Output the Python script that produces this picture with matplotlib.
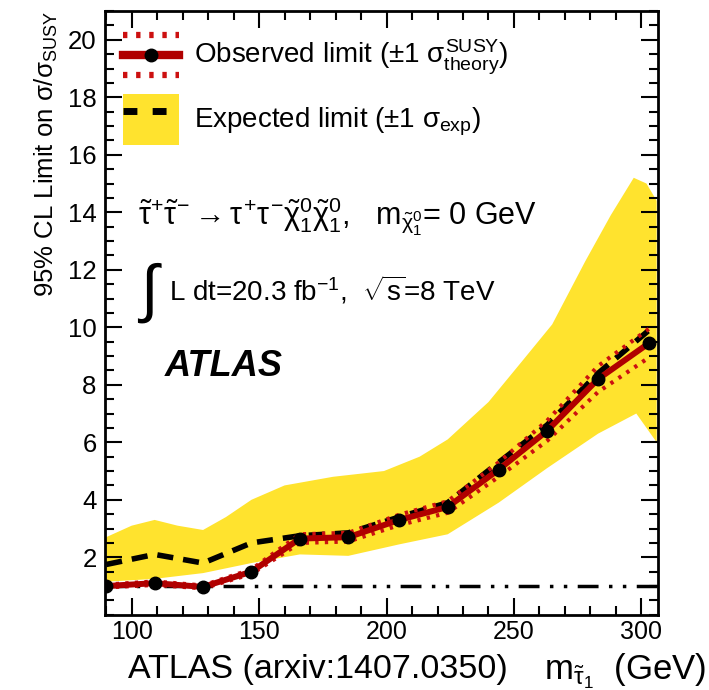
import numpy as np
import matplotlib
matplotlib.use('Agg')
import matplotlib.pyplot as plt
from matplotlib.lines import Line2D
from matplotlib.patches import Patch
from matplotlib.legend_handler import HandlerBase
from matplotlib.ticker import MultipleLocator

plt.rcParams['font.family'] = ['Liberation Sans', 'DejaVu Sans']
plt.rcParams['mathtext.fontset'] = 'custom'
plt.rcParams['mathtext.rm'] = 'Liberation Sans'
plt.rcParams['mathtext.it'] = 'Liberation Sans'
plt.rcParams['mathtext.bf'] = 'Liberation Sans:bold'
plt.rcParams['mathtext.sf'] = 'Liberation Sans'

# ---------------- data ----------------
mass = [90, 109, 128, 147, 166, 185, 205, 224, 244, 263, 283, 303]
observed = [1.0, 1.1, 0.97, 1.5, 2.65, 2.7, 3.3, 3.75, 5.05, 6.4, 8.2, 9.45]
theory_up = [1.05, 1.16, 1.02, 1.58, 2.8, 2.85, 3.48, 3.95, 5.3, 6.75, 8.65, 9.95]
theory_down = [0.95, 1.04, 0.92, 1.42, 2.5, 2.55, 3.12, 3.55, 4.8, 6.05, 7.75, 8.95]
expected = [1.75, 2.1, 1.8, 2.5, 2.75, 2.85, 3.4, 3.9, 5.3, 6.6, 8.4, 9.9]

band_up_x = [90, 100, 109, 118, 128, 137, 147, 160, 179, 199, 213, 224, 240, 253,
             265, 278, 288, 297, 302, 306]
band_up_y = [2.7, 3.1, 3.3, 3.1, 2.95, 3.4, 4.0, 4.5, 4.8, 5.0, 5.5, 6.1, 7.4, 8.8,
             10.1, 12.3, 13.9, 15.2, 15.0, 14.4]
band_dn_x = [90, 109, 128, 147, 166, 185, 205, 224, 244, 263, 283, 298, 306]
band_dn_y = [1.15, 1.25, 1.45, 1.8, 2.1, 2.05, 2.45, 2.8, 3.9, 5.1, 6.3, 7.0, 6.0]

xticks = [100, 150, 200, 250, 300]
yticks = [2, 4, 6, 8, 10, 12, 14, 16, 18, 20]

RED = '#b00000'
DOTRED = '#cc1010'
YELLOW = '#ffe32e'

fig = plt.figure(figsize=(7.09, 6.90), dpi=100)
ax = fig.add_axes([0.148, 0.109, 0.780, 0.875])

# yellow band
ax.fill(np.concatenate([band_up_x, band_dn_x[::-1]]),
        np.concatenate([band_up_y, band_dn_y[::-1]]),
        color=YELLOW, lw=0, zorder=1)

# unity line
ax.axhline(1.0, color='black', lw=2.5, ls=(0, (6, 3, 1, 3, 1, 3)), zorder=2)

# expected
ax.plot(mass, expected, color='black', lw=4, ls=(0, (2.9, 1.8)), zorder=3)

# theory band lines
ax.plot(mass, theory_up, color=DOTRED, lw=3, ls=(0, (0.8, 1.5)), zorder=4)
ax.plot(mass, theory_down, color=DOTRED, lw=3, ls=(0, (0.8, 1.5)), zorder=4)

# observed
ax.plot(mass, observed, color=RED, lw=4.3, zorder=5)
ax.plot(mass, observed, ls='none', marker='o', ms=9, color='black', zorder=6)

ax.set_xlim(89.5, 306.5)
ax.set_ylim(0, 21)
ax.set_xticks(xticks)
ax.set_yticks(yticks)
ax.xaxis.set_minor_locator(MultipleLocator(10))
ax.yaxis.set_minor_locator(MultipleLocator(0.5))
ax.tick_params(which='both', direction='in', top=True, right=True, width=1.5,
               labelsize=18.5)
ax.tick_params(which='major', length=12)
ax.tick_params(which='minor', length=6.5)
ax.tick_params(axis='x', pad=4, labelsize=18)
ax.tick_params(axis='y', pad=6)
for s in ax.spines.values():
    s.set_linewidth(2)

ax.set_ylabel(r'95% CL Limit on $\sigma/\sigma_{\rm SUSY}$', fontsize=18.5,
              loc='top', labelpad=6)

fig.text(0.996, 0.015, r'm$_{\tilde{\tau}_{1}}$  (GeV)', fontsize=25,
         ha='right', va='baseline')
fig.text(0.180, 0.017, 'ATLAS (arxiv:1407.0350)', fontsize=24.5,
         ha='left', va='baseline')


# legend
class HandlerObs(HandlerBase):
    def create_artists(self, legend, orig_handle, xdescent, ydescent,
                       width, height, fontsize, trans):
        x0, x1 = -xdescent, -xdescent + width
        y0 = -ydescent
        ym = y0 + height / 2
        off = 0.38 * height
        dot = (0, (0.7, 1.4))
        top = Line2D([x0, x1], [ym + off, ym + off], color=DOTRED, lw=4.5,
                     ls=dot, transform=trans)
        bot = Line2D([x0, x1], [ym - off, ym - off], color=DOTRED, lw=4.5,
                     ls=dot, transform=trans)
        mid = Line2D([x0, x1], [ym, ym], color=RED, lw=6, transform=trans)
        mk = Line2D([(x0 + x1) / 2], [ym], marker='o', ms=9, color='black',
                    transform=trans)
        return [top, bot, mid, mk]


obs_handle = Line2D([], [], color=RED)
exp_handle = (Patch(facecolor=YELLOW, edgecolor='none'),
              Line2D([], [], color='black', lw=5, ls=(0, (2.0, 2.2))))
leg = ax.legend([obs_handle, exp_handle],
                [r'Observed limit ($\pm$1 $\sigma^{\rm SUSY}_{\rm theory}$)',
                 r'Expected limit ($\pm$1 $\sigma_{\rm exp}$)'],
                handler_map={obs_handle: HandlerObs()},
                loc='upper left', frameon=False, fontsize=20,
                handlelength=2.0, handleheight=2.5, handletextpad=0.55,
                labelspacing=0.45, borderaxespad=0.3, borderpad=0.35)

# annotations
ax.text(0.060, 0.645,
        r'$\tilde{\tau}^{+}\tilde{\tau}^{-}\rightarrow\tau^{+}\tau^{-}'
        r'\tilde{\chi}_{1}^{0}\tilde{\chi}_{1}^{0}$,   m$_{\tilde{\chi}_{1}^{0}}$= 0 GeV',
        transform=ax.transAxes, fontsize=22, va='baseline')
ax.text(0.058, 0.505, r'$\int$', transform=ax.transAxes, fontsize=46, va='baseline')
ax.text(0.115, 0.52, r'L dt=20.3 fb$^{-1}$,  $\sqrt{s}$=8 TeV',
        transform=ax.transAxes, fontsize=20, va='baseline')
ax.text(0.108, 0.395, 'ATLAS', transform=ax.transAxes, fontsize=26,
        fontweight='bold', fontstyle='italic', va='baseline')

fig.savefig('out.png', dpi=100)
